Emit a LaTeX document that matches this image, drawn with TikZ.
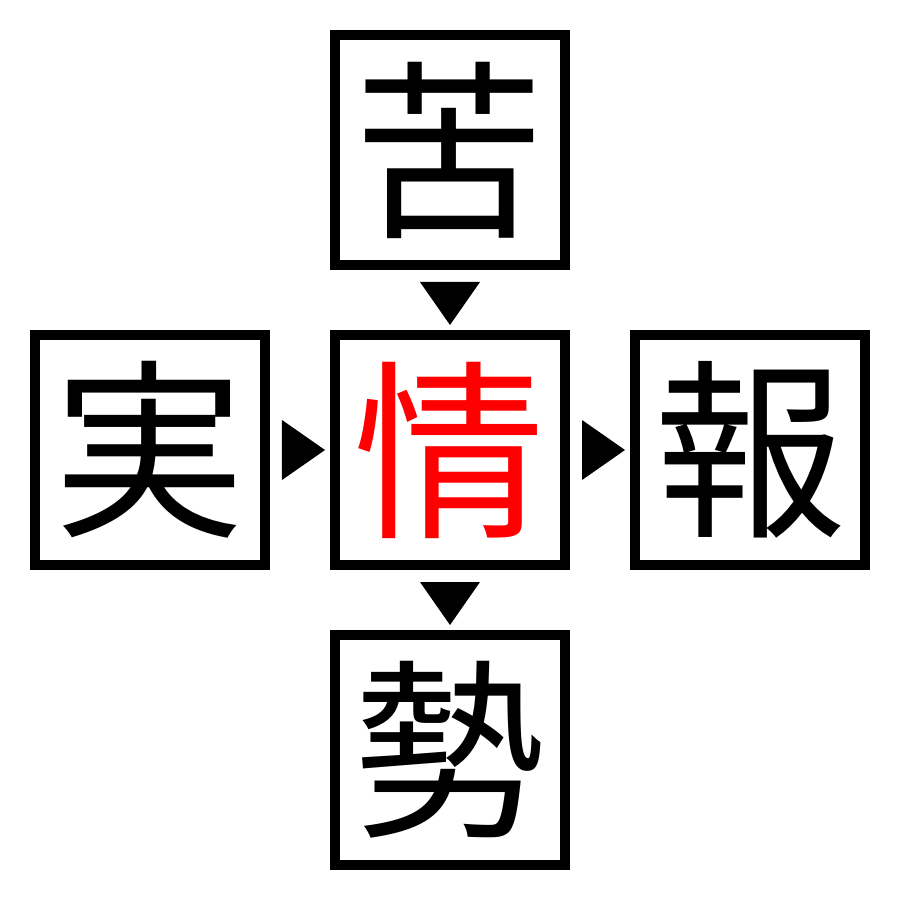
\documentclass[tikz,border=0pt]{standalone}
\usepackage{fontspec}
\newfontfamily\cjk{Noto Sans CJK JP}
\usetikzlibrary{calc}
\tikzset{
  kbox/.style={draw=black, line width=10pt, minimum size=230pt, inner sep=0pt, outer sep=5pt,
    font=\cjk\fontsize{192}{192}\selectfont, text=black},
  hot/.style={text=red},
  tri/.style={fill=black}
}
\begin{document}
\begin{tikzpicture}[x=1pt,y=1pt]
\useasboundingbox (-450,-450) rectangle (450,450);
\node[kbox] (t) at (0,300) {苦};
\node[kbox] (l) at (-300,0) {実};
\node[kbox,hot] (c) at (0,0) {情};
\node[kbox] (r) at (300,0) {報};
\node[kbox] (b) at (0,-300) {勢};
\fill[tri] ($(t.south)+(-30,-12)$) -- ($(t.south)+(30,-12)$) -- ($(c.north)+(0,5)$) -- cycle;
\fill[tri] ($(c.south)+(-30,-12)$) -- ($(c.south)+(30,-12)$) -- ($(b.north)+(0,5)$) -- cycle;
\fill[tri] ($(l.east)+(12,30)$) -- ($(l.east)+(12,-30)$) -- ($(c.west)+(-5,0)$) -- cycle;
\fill[tri] ($(c.east)+(12,30)$) -- ($(c.east)+(12,-30)$) -- ($(r.west)+(-5,0)$) -- cycle;
\end{tikzpicture}
\end{document}
